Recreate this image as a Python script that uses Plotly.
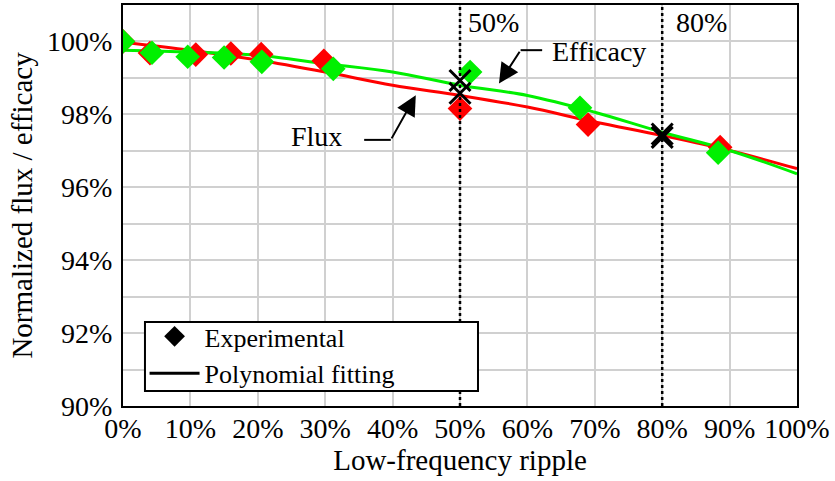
import plotly.graph_objects as go

# Polynomial fits (sampled every 10 % of ripple)
fit_x = [0.0, 0.1, 0.2, 0.3, 0.4, 0.5, 0.6, 0.7, 0.8, 0.9, 1.0]
flux_fit = [0.9998, 0.9976, 0.9949, 0.9916, 0.9880, 0.9852, 0.9820, 0.9779, 0.9742, 0.9701, 0.9651]
eff_fit = [0.9976, 0.9971, 0.9962, 0.9939, 0.9916, 0.9880, 0.9852, 0.9806, 0.9751, 0.9701, 0.9637]

# Experimental measurements
flux_x = [0.0, 0.04, 0.108, 0.16, 0.205, 0.298, 0.50, 0.69, 0.886]
flux_y = [1.0, 0.9968, 0.9964, 0.9967, 0.9965, 0.9947, 0.9816, 0.9772, 0.9710]
eff_x = [0.0, 0.043, 0.096, 0.15, 0.206, 0.312, 0.515, 0.678, 0.883]
eff_y = [1.0, 0.9969, 0.9958, 0.9956, 0.9944, 0.9925, 0.9916, 0.9818, 0.9695]

# Operating points marked at 50 % and 80 % ripple
mark_x = [0.5, 0.5, 0.8, 0.8]
mark_y = [0.9893, 0.9858, 0.9746, 0.9737]

x_ticks = [0.0, 0.1, 0.2, 0.3, 0.4, 0.5, 0.6, 0.7, 0.8, 0.9, 1.0]
x_labels = ["0%", "10%", "20%", "30%", "40%", "50%", "60%", "70%", "80%", "90%", "100%"]
y_ticks = [0.90, 0.92, 0.94, 0.96, 0.98, 1.00]
y_labels = ["90%", "92%", "94%", "96%", "98%", "100%"]

RED = "#ff0000"
GREEN = "#00f000"
FONT = "Liberation Serif"
FS = 28
TITLE_FS = 29
GRID = "#d0d0d0"

fig = go.Figure()
fig.add_trace(go.Scatter(x=fit_x, y=flux_fit, mode="lines", line=dict(color=RED, width=3, shape="spline"),
                         showlegend=False))
fig.add_trace(go.Scatter(x=fit_x, y=eff_fit, mode="lines", line=dict(color=GREEN, width=3, shape="spline"),
                         showlegend=False))
fig.add_trace(go.Scatter(x=flux_x, y=flux_y, mode="markers",
                         marker=dict(symbol="diamond", size=19, color=RED), showlegend=False))
fig.add_trace(go.Scatter(x=eff_x, y=eff_y, mode="markers",
                         marker=dict(symbol="diamond", size=19, color=GREEN), showlegend=False))
fig.add_trace(go.Scatter(x=mark_x, y=mark_y, mode="markers",
                         marker=dict(symbol="x-thin", size=21, line=dict(color="black", width=3)),
                         showlegend=False))

# Legend entries
fig.add_trace(go.Scatter(x=[None], y=[None], mode="markers", name="Experimental",
                         marker=dict(symbol="diamond", size=19, color="black")))
fig.add_trace(go.Scatter(x=[None], y=[None], mode="lines", name="Polynomial fitting",
                         line=dict(color="black", width=3)))

# Dotted reference lines at 50 % and 80 %
for xv in (0.5, 0.8):
    fig.add_shape(type="line", x0=xv, x1=xv, y0=0, y1=1, xref="x", yref="paper",
                  line=dict(color="black", width=2.5, dash="dot"))

# Legend frame
fig.add_shape(type="rect", xref="paper", yref="paper", x0=0.0326, x1=0.5267, y0=0.0374, y1=0.2095,
              fillcolor="white", line=dict(color="black", width=2))

fig.add_annotation(x=0.549, y=1.0053, text="50%", showarrow=False, font=dict(family=FONT, size=FS, color="black"))
fig.add_annotation(x=0.859, y=1.0053, text="80%", showarrow=False, font=dict(family=FONT, size=FS, color="black"))

# Callout for the flux curve
fig.add_shape(type="line", x0=0.3578, x1=0.3973, y0=0.9730, y1=0.9730, line=dict(color="black", width=2))
fig.add_annotation(x=0.4344, y=0.98523, ax=0.3973, ay=0.9730, axref="x", ayref="y", text="",
                   showarrow=True, arrowhead=2, arrowsize=2, arrowwidth=2, arrowcolor="black")
fig.add_annotation(x=0.2875, y=0.9740, text="Flux", showarrow=False, font=dict(family=FONT, size=FS, color="black"))

# Callout for the efficacy curve
fig.add_shape(type="line", x0=0.6219, x1=0.5899, y0=0.99761, y1=0.99761, line=dict(color="black", width=2))
fig.add_annotation(x=0.5578, y=0.98845, ax=0.5899, ay=0.99761, axref="x", ayref="y", text="",
                   showarrow=True, arrowhead=2, arrowsize=2, arrowwidth=2, arrowcolor="black")
fig.add_annotation(x=0.7059, y=0.9973, text="Efficacy", showarrow=False,
                   font=dict(family=FONT, size=FS, color="black"))

title_font = dict(family=FONT, size=TITLE_FS, color="black")

fig.update_layout(
    width=835, height=481,
    margin=dict(l=123, r=38, t=5, b=75),
    paper_bgcolor="white", plot_bgcolor="white",
    font=dict(family=FONT, size=FS, color="black"),
    legend=dict(x=0.032, y=0.232, xanchor="left", yanchor="top", bgcolor="rgba(0,0,0,0)",
                borderwidth=0, font=dict(family=FONT, size=26, color="black"),
                tracegroupgap=0, itemwidth=50),
    xaxis=dict(range=[0, 1], tickvals=x_ticks, ticktext=x_labels, showgrid=True, gridcolor=GRID,
               gridwidth=1.5, showline=True, linecolor="black", linewidth=2, mirror=True, ticks="",
               ticklabelstandoff=-4, tickfont=dict(family=FONT, size=FS, color="black"),
               zeroline=False, automargin=False,
               title=dict(text="Low-frequency ripple", standoff=2, font=title_font)),
    yaxis=dict(range=[0.90, 1.01], tickvals=y_ticks, ticktext=y_labels, showgrid=True, gridcolor=GRID,
               gridwidth=1.5, minor=dict(dtick=0.01, tick0=0.9, showgrid=True, gridcolor=GRID, gridwidth=1.5),
               showline=True, linecolor="black", linewidth=2, mirror=True, ticks="", zeroline=False,
               ticklabelstandoff=3, tickfont=dict(family=FONT, size=FS, color="black"), automargin=False,
               title=dict(text="Normalized flux / efficacy", standoff=6, font=title_font)),
)

fig.write_html("out.html")
